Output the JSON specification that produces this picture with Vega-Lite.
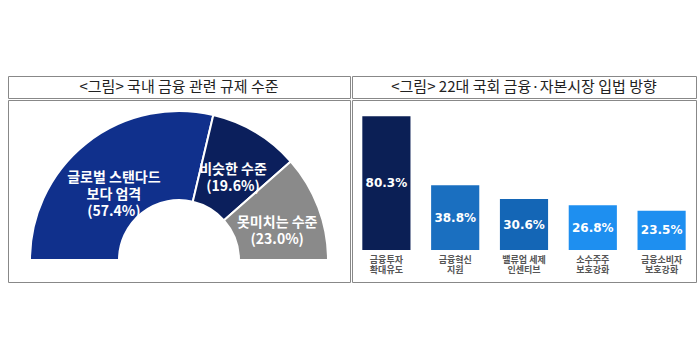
{
  "$schema": "https://vega.github.io/schema/vega-lite/v6.json",
  "background": "white",
  "padding": {"left": 7, "top": 75, "right": 0, "bottom": 0},
  "config": {"view": {"stroke": "#888888", "strokeWidth": 1}},
  "spacing": 0,
  "resolve": {"scale": {"color": "independent"}},
  "hconcat": [
    {
      "spacing": 0,
      "vconcat": [
        {
          "width": 342,
          "height": 22,
          "data": {"values": [{"t": "<그림> 국내 금융 관련 규제 수준"}]},
          "mark": {"type": "text", "font": "Noto Sans CJK KR", "fontSize": 15, "color": "#222222", "baseline": "middle", "align": "center"},
          "encoding": {
            "x": {"datum": 0, "type": "quantitative", "scale": {"domain": [-1, 1]}, "axis": null},
            "y": {"datum": 0, "type": "quantitative", "scale": {"domain": [-1, 1]}, "axis": null},
            "text": {"field": "t", "type": "nominal"}
          }
        },
        {
          "width": 342,
          "height": 182,
          "data": {
            "values": [
              {"category": "글로벌 스탠다드 보다 엄격", "value": 57.4, "order": 1, "label": ["글로벌 스탠다드", "보다 엄격", "(57.4%)"]},
              {"category": "비슷한 수준", "value": 19.6, "order": 2, "label": ["비슷한 수준", "(19.6%)"]},
              {"category": "못미치는 수준", "value": 23.0, "order": 3, "label": ["못미치는 수준", "(23.0%)"]}
            ]
          },
          "encoding": {
            "x": {"datum": 0, "type": "quantitative", "scale": {"domain": [-1, 1]}, "axis": null},
            "y": {"datum": 0, "type": "quantitative", "scale": {"domain": [-22, 160]}, "axis": null},
            "theta": {"field": "value", "type": "quantitative", "stack": true, "scale": {"range": [-1.5707963, 1.5707963]}},
            "order": {"field": "order", "type": "quantitative"}
          },
          "layer": [
            {
              "mark": {"type": "arc", "innerRadius": 60, "outerRadius": 149, "stroke": "white", "strokeWidth": 2},
              "encoding": {
                "color": {"field": "category", "type": "nominal", "legend": null,
                  "scale": {"domain": ["글로벌 스탠다드 보다 엄격", "비슷한 수준", "못미치는 수준"], "range": ["#10308c", "#0b1f5c", "#8a8a8a"]}}
              }
            },
            {
              "mark": {"type": "text", "radius": 105, "font": "Noto Sans CJK KR", "fontSize": 14, "fontWeight": "bold", "fill": "white", "lineHeight": 17, "align": "center", "baseline": "middle"},
              "encoding": {"text": {"field": "label"}}
            }
          ]
        }
      ]
    },
    {
      "spacing": 0,
      "vconcat": [
        {
          "width": 344,
          "height": 22,
          "data": {"values": [{"t": "<그림> 22대 국회 금융·자본시장 입법 방향"}]},
          "mark": {"type": "text", "font": "Noto Sans CJK KR", "fontSize": 15, "color": "#222222", "baseline": "middle", "align": "center"},
          "encoding": {
            "x": {"datum": 0, "type": "quantitative", "scale": {"domain": [-1, 1]}, "axis": null},
            "y": {"datum": 0, "type": "quantitative", "scale": {"domain": [-1, 1]}, "axis": null},
            "text": {"field": "t", "type": "nominal"}
          }
        },
        {
          "width": 344,
          "height": 182,
          "data": {
            "values": [
              {"item": "금융투자|확대유도", "value": 80.3, "label": "80.3%"},
              {"item": "금융혁신|지원", "value": 38.8, "label": "38.8%"},
              {"item": "밸류업 세제|인센티브", "value": 30.6, "label": "30.6%"},
              {"item": "소수주주|보호강화", "value": 26.8, "label": "26.8%"},
              {"item": "금융소비자|보호강화", "value": 23.5, "label": "23.5%"}
            ]
          },
          "encoding": {
            "x": {"field": "item", "type": "nominal", "sort": null, "title": null,
              "scale": {"paddingInner": 0.3, "paddingOuter": 0.15},
              "axis": {"orient": "bottom", "domain": false, "ticks": false, "labelAngle": 0, "labelPadding": -27, "labelBaseline": "top",
                "labelFont": "Noto Sans CJK KR", "labelFontSize": 9, "labelFontWeight": "bold", "labelColor": "#555555", "labelLineHeight": 10,
                "labelExpr": "split(datum.label, '|')"}}
          },
          "layer": [
            {
              "mark": {"type": "bar"},
              "encoding": {
                "y": {"field": "value", "type": "quantitative", "scale": {"domain": [0, 90], "range": [150, 0]}, "axis": null},
                "color": {"field": "item", "type": "nominal", "legend": null,
                  "scale": {"domain": ["금융투자|확대유도", "금융혁신|지원", "밸류업 세제|인센티브", "소수주주|보호강화", "금융소비자|보호강화"],
                    "range": ["#0b1f55", "#1a6fc0", "#1466b6", "#1e8ff0", "#1e8ff0"]}}
              }
            },
            {
              "mark": {"type": "text", "font": "DejaVu Sans", "fontSize": 12, "fontWeight": "bold", "fill": "white", "align": "center", "baseline": "middle"},
              "encoding": {
                "y": {"field": "value", "type": "quantitative", "scale": {"domain": [0, 180], "range": [150, 0]}, "axis": null},
                "text": {"field": "label"}
              }
            }
          ],
          "resolve": {"scale": {"y": "independent"}}
        }
      ]
    }
  ]
}
